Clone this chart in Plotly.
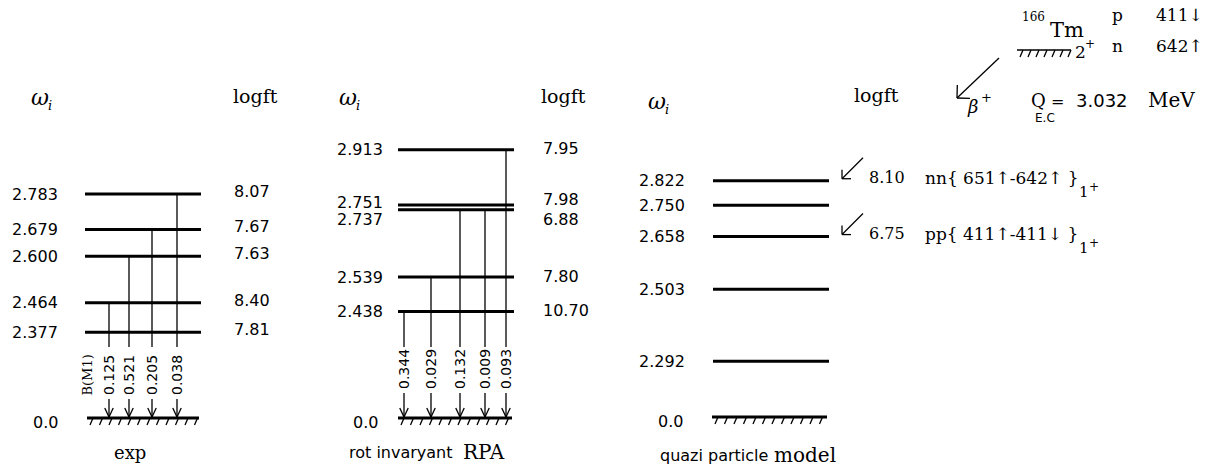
import math
import plotly.graph_objects as go

# ---------------- data ----------------
exp_levels = [2.377, 2.464, 2.600, 2.679, 2.783]
exp_logft = ["7.81", "8.40", "7.63", "7.67", "8.07"]
exp_trans_from = [2.464, 2.600, 2.679, 2.783]
exp_bm1 = ["0.125", "0.521", "0.205", "0.038"]

rpa_levels = [2.438, 2.539, 2.737, 2.751, 2.913]
rpa_logft = ["10.70", "7.80", "6.88", "7.98", "7.95"]
rpa_trans_from = [2.438, 2.539, 2.737, 2.737, 2.913]
rpa_bm1 = ["0.344", "0.029", "0.132", "0.009", "0.093"]

qpm_levels = [2.292, 2.503, 2.658, 2.750, 2.822]
qpm_logft_levels = [2.822, 2.658]
qpm_logft = ["8.10", "6.75"]
qpm_configs = ["nn{ 651↑-642↑ }", "pp{ 411↑-411↓ }"]
qpm_config_spin = ["1", "1"]

ground_label = "0.0"
panel_names = ["exp", "rot invaryant", "RPA", "quazi particle", "model"]
parent_A, parent_sym, parent_spin = "166", "Tm", "2"
parent_config = [("p", "411↓"), ("n", "642↑")]
q_value = "3.032"

# ---------------- geometry helpers ----------------
W, H = 1229, 467
PXM = 340.6                      # pixels per MeV
Y_TOP = 2.783 + 194 / PXM
Y_BOT = Y_TOP - H / PXM
SANS = "DejaVu Sans"
SERIF = "DejaVu Serif"


def Y(px):
    return Y_TOP - px / PXM


def P(e):
    return (Y_TOP - e) * PXM


thick_x, thick_y = [], []
thin_x, thin_y = [], []


def thick(x0, y0, x1, y1):
    thick_x.extend([x0, x1, None]); thick_y.extend([y0, y1, None])


def thin(x0, y0, x1, y1):
    thin_x.extend([x0, x1, None]); thin_y.extend([y0, y1, None])


def arrow_px(x0, p0, x1, p1, L, half):
    thin(x0, Y(p0), x1, Y(p1))
    ang = math.atan2(p0 - p1, x0 - x1)
    for s in (-1, 1):
        a = ang + s * math.radians(half)
        thin(x1, Y(p1), x1 + L * math.cos(a), Y(p1 + L * math.sin(a)))


def hatched(xa, xb, p, step=9.5, heavy=True):
    if heavy:
        thick(xa, Y(p), xb, Y(p))
    else:
        thin(xa, Y(p), xb, Y(p))
    x = xa + 6
    while x <= xb:
        thin(x, Y(p), x - 3, Y(p + 7))
        x += step


annots = []


def txt(x, p, s, size=16, family=SANS, xanchor="center", angle=0, italic=False):
    annots.append(dict(x=x, y=Y(p), text=s, showarrow=False, xref="x", yref="y",
                       xanchor=xanchor, yanchor="middle", textangle=angle,
                       font=dict(family=family, size=size, color="black",
                                 style="italic" if italic else "normal")))


# ---------------- panels ----------------
panels = [
    dict(levels=exp_levels, logft=exp_logft, tfrom=exp_trans_from, bm1=exp_bm1,
         x0=85, x1=201, lab_r=60, lft_l=232, tx=[109, 129, 152, 177],
         g=(87, 199), gp=418, g_lab_r=60, lab_mid=375, line_end=347, arr_start=399,
         lab_off={}, lft_off={}, lft_dflt=-2.5),
    dict(levels=rpa_levels, logft=rpa_logft, tfrom=rpa_trans_from, bm1=rpa_bm1,
         x0=398, x1=514, lab_r=385, lft_l=541, tx=[404, 431, 460, 485, 506],
         g=(398, 512), gp=418, g_lab_r=380, lab_mid=369, line_end=347, arr_start=393,
         lab_off={2.751: -2, 2.737: 10}, lft_off={2.751: -5, 2.737: 10}, lft_dflt=-1),
    dict(levels=qpm_levels, logft=None, tfrom=[], bm1=[],
         x0=713, x1=829, lab_r=687, lft_l=None, tx=[],
         g=(712, 827), gp=417, g_lab_r=685, lab_mid=0, line_end=0, arr_start=0,
         lab_off={}, lft_off={}, lft_dflt=0),
]

for pn in panels:
    for i, e in enumerate(pn["levels"]):
        thick(pn["x0"], e, pn["x1"], e)
        txt(pn["lab_r"], P(e) + pn["lab_off"].get(e, 0), f"{e:.3f}", xanchor="right")
        if pn["logft"] is not None:
            txt(pn["lft_l"], P(e) + pn["lft_off"].get(e, pn["lft_dflt"]), pn["logft"][i],
                xanchor="left")
    hatched(pn["g"][0], pn["g"][1], pn["gp"])
    txt(pn["g_lab_r"], pn["gp"] + 4, ground_label, xanchor="right")
    for x, e, b in zip(pn["tx"], pn["tfrom"], pn["bm1"]):
        thin(x, e, x, Y(pn["line_end"]))
        arrow_px(x, pn["arr_start"], x, pn["gp"] - 1, 10, 25)
        txt(x, pn["lab_mid"], b, size=14, angle=-90)

# B(M1) tag in exp panel
txt(86.5, 375, "B(M1)", size=13, family=SERIF, angle=-90)

# headers
for x, p in [(40, 97), (348, 97), (657, 101)]:
    txt(x, p, "ω", size=22, family=SERIF, italic=True)
    txt(x + 10, p + 8, "i", size=13, family=SERIF, italic=True)
for x, p in [(255, 96), (563, 96), (876, 95)]:
    txt(x, p, "logft", size=19, family=SERIF)

# panel names
txt(130, 452, panel_names[0], size=18, family=SERIF)
txt(347, 452, panel_names[1], size=16, family=SANS, xanchor="left")
txt(507, 452, panel_names[2], size=20, family=SERIF, xanchor="right")
txt(658, 455, panel_names[3], size=16, family=SANS, xanchor="left")
txt(838, 455, panel_names[4], size=20, family=SERIF, xanchor="right")

# QPM logft with configurations
for e, lf, cfg, sp in zip(qpm_logft_levels, qpm_logft, qpm_configs, qpm_config_spin):
    tip = P(e) - 2
    arrow_px(863, tip - 21, 842, tip, 9, 45)
    txt(867, tip - 1, lf, size=16, family=SERIF, xanchor="left")
    txt(923, tip - 1, cfg, size=17, family=SERIF, xanchor="left")
    txt(1077, tip + 13, sp, size=15, family=SERIF, xanchor="left")
    txt(1087, tip + 8, "+", size=12, family=SERIF, xanchor="left")

# parent nucleus
txt(1033, 17, parent_A, size=12, family=SERIF)
txt(1067, 30, parent_sym, size=21, family=SERIF)
hatched(1017, 1071, 50, step=8, heavy=False)
txt(1080, 52, parent_spin, size=17, family=SERIF)
txt(1090, 44, "+", size=12, family=SERIF)
for (nuc, orb), p in zip(parent_config, [15, 46]):
    txt(1117, p, nuc, size=17, family=SERIF)
    txt(1179, p, orb, size=17, family=SERIF)
arrow_px(999, 58, 957, 98, 13, 45)
txt(972, 106, "β", size=18, family=SERIF, italic=True)
txt(986, 97, "+", size=13, family=SERIF)
txt(1038, 100, "Q", size=18, family=SERIF)
txt(1045, 118, "E.C", size=12, family=SANS)
txt(1057, 101, "=", size=16, family=SANS)
txt(1102, 100, q_value, size=18, family=SANS)
txt(1171, 100, "MeV", size=20, family=SERIF)

fig = go.Figure()
fig.add_trace(go.Scatter(x=thick_x, y=thick_y, mode="lines",
                         line=dict(color="black", width=3), hoverinfo="skip"))
fig.add_trace(go.Scatter(x=thin_x, y=thin_y, mode="lines",
                         line=dict(color="black", width=1.3), hoverinfo="skip"))
fig.update_layout(
    width=W, height=H, autosize=False,
    margin=dict(l=0, r=0, t=0, b=0, pad=0),
    paper_bgcolor="white", plot_bgcolor="white", showlegend=False,
    xaxis=dict(range=[0, W], visible=False, fixedrange=True),
    yaxis=dict(range=[Y_BOT, Y_TOP], visible=False, fixedrange=True),
    annotations=annots,
)
fig.write_html("out.html", post_script="document.body.style.margin='0';",
               config=dict(displayModeBar=False))
